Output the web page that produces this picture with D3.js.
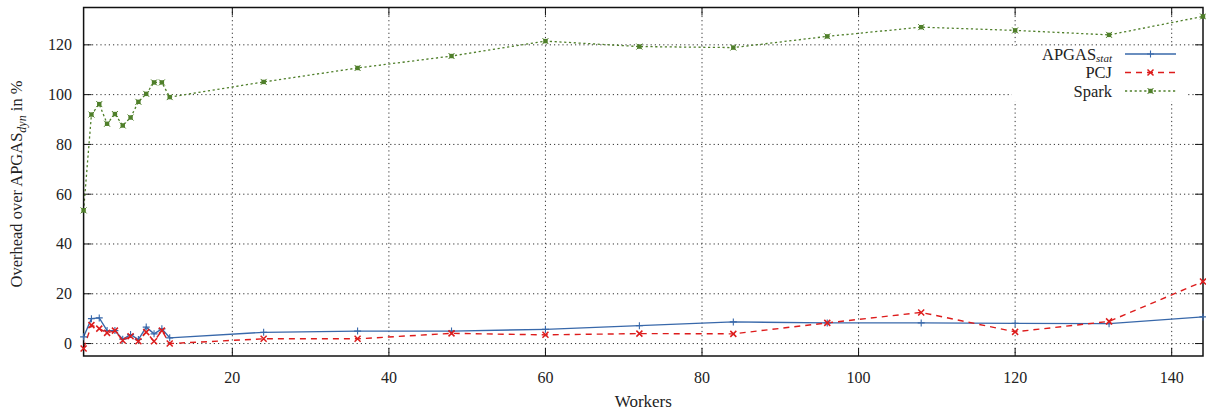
<!DOCTYPE html>
<html><head><meta charset="utf-8">
<script src="https://cdn.jsdelivr.net/npm/d3@7"></script>
<style>
html,body{margin:0;padding:0;background:#fff;}
</style></head>
<body>
<svg id="chart" width="1206" height="414"></svg>
<script>
const workers = [1,2,3,4,5,6,7,8,9,10,11,12,24,36,48,60,72,84,96,108,120,132,144];
const apgas = [2.7,10.0,10.3,5.2,5.2,1.7,3.6,1.6,6.6,3.9,5.9,2.3,4.5,5.0,5.0,5.7,7.2,8.7,8.3,8.3,8.1,8.0,10.7];
const pcj = [-2.0,7.4,6.0,4.3,5.2,1.2,2.9,0.9,4.6,0.9,5.2,0.0,1.9,1.9,4.1,3.5,4.0,3.9,8.3,12.5,4.7,8.9,24.9];
const spark = [53.5,92.0,96.2,88.3,92.2,87.6,90.8,97.1,100.3,104.9,104.9,99.0,105.1,110.7,115.5,121.5,119.3,118.9,123.4,127.1,125.8,124.0,131.4];
const xTicks = [20,40,60,80,100,120,140];
const yTicks = [0,20,40,60,80,100,120];

const FONT = "Liberation Serif";
const svg = d3.select("#chart");
const L = 83.6, R = 1203, T = 7.5, B = 356;
const x = d3.scaleLinear().domain([1,144]).range([L,R]);
const y = d3.scaleLinear().domain([-5,135]).range([B,T]);

const colors = {apgas:"#3868aa", pcj:"#dd1c1c", spark:"#4f7f2a"};

// grid
const grid = svg.append("g");
grid.selectAll("line.gx").data(xTicks).join("line")
  .attr("x1",d=>x(d)).attr("x2",d=>x(d)).attr("y1",T).attr("y2",B)
  .attr("stroke","#333").attr("stroke-width",1).attr("stroke-dasharray","1.2,3");
grid.selectAll("line.gy").data(yTicks).join("line")
  .attr("y1",d=>y(d)).attr("y2",d=>y(d)).attr("x1",L).attr("x2",R)
  .attr("stroke","#333").attr("stroke-width",1).attr("stroke-dasharray","1.2,3");

// ticks (inward, mirrored)
const tk = 8;
const ticks = svg.append("g").attr("stroke","#111").attr("stroke-width",1);
xTicks.forEach(d=>{
  ticks.append("line").attr("x1",x(d)).attr("x2",x(d)).attr("y1",B).attr("y2",B-tk);
  ticks.append("line").attr("x1",x(d)).attr("x2",x(d)).attr("y1",T).attr("y2",T+tk);
});
yTicks.forEach(d=>{
  ticks.append("line").attr("y1",y(d)).attr("y2",y(d)).attr("x1",L).attr("x2",L+tk);
  ticks.append("line").attr("y1",y(d)).attr("y2",y(d)).attr("x1",R).attr("x2",R-tk);
});

// tick labels
svg.append("g").selectAll("text").data(xTicks).join("text")
  .attr("x",d=>x(d)).attr("y",383).attr("text-anchor","middle").attr("font-family",FONT)
  .attr("font-size",16).attr("fill","#222").text(d=>d);
svg.append("g").selectAll("text").data(yTicks).join("text")
  .attr("x",72).attr("y",d=>y(d)+5.5).attr("text-anchor","end").attr("font-family",FONT)
  .attr("font-size",16).attr("fill","#222").text(d=>d);

// axis labels
svg.append("text").attr("x",(L+R)/2).attr("y",407).attr("text-anchor","middle").attr("font-family",FONT)
  .attr("font-size",17).attr("fill","#222").text("Workers");
const yl = svg.append("text").attr("transform","translate(22,184) rotate(-90)").attr("font-family",FONT)
  .attr("text-anchor","middle").attr("font-size",16.5).attr("fill","#222");
yl.append("tspan").text("Overhead over APGAS");
yl.append("tspan").attr("font-style","italic").attr("font-size",12).attr("dy",4).text("dyn");
yl.append("tspan").attr("dy",-4).text(" in %");

// clip
svg.append("clipPath").attr("id","clip").append("rect")
  .attr("x",L).attr("y",T).attr("width",R-L).attr("height",B-T);

const plot = svg.append("g").attr("clip-path","url(#clip)");
const markLayer = svg.append("g");
const line = d3.line().x(d=>x(d[0])).y(d=>y(d[1]));

function markerPlus(g,cx,cy,c){
  g.append("path").attr("d",`M${cx-3.5},${cy}H${cx+3.5}M${cx},${cy-3.5}V${cy+3.5}`)
   .attr("stroke",c).attr("stroke-width",1.1).attr("fill","none");
}
function markerX(g,cx,cy,c){
  g.append("path").attr("d",`M${cx-3},${cy-3}L${cx+3},${cy+3}M${cx-3},${cy+3}L${cx+3},${cy-3}`)
   .attr("stroke",c).attr("stroke-width",1.5).attr("fill","none");
}
function markerBox(g,cx,cy,c){
  g.append("rect").attr("x",cx-2.2).attr("y",cy-2.2).attr("width",4.4).attr("height",4.4)
   .attr("fill",c);
  g.append("path").attr("d",`M${cx-3},${cy-3}L${cx+3},${cy+3}M${cx-3},${cy+3}L${cx+3},${cy-3}`)
   .attr("stroke",c).attr("stroke-width",1).attr("fill","none");
}

const series = [
  {key:"apgas", vals:apgas, dash:null, w:1.4, marker:markerPlus},
  {key:"pcj", vals:pcj, dash:"6,5", w:1.4, marker:markerX},
  {key:"spark", vals:spark, dash:"2.2,2.6", w:1.3, marker:markerBox}
];

// border
svg.insert("rect", ":first-child").attr("x",0).attr("y",0).attr("width",1206).attr("height",414).attr("fill","#fff");

series.forEach(s=>{
  const pts = workers.map((w,i)=>[w,s.vals[i]]);
  plot.append("path").datum(pts).attr("d",line)
    .attr("fill","none").attr("stroke",colors[s.key]).attr("stroke-width",s.w)
    .attr("stroke-dasharray",s.dash);
});

svg.append("rect").attr("x",L).attr("y",T).attr("width",R-L).attr("height",B-T)
  .attr("fill","none").attr("stroke","#111").attr("stroke-width",1.5);

series.forEach(s=>{
  const mg = svg.append("g");
  workers.forEach((w,i)=>s.marker(mg,x(w),y(s.vals[i]),colors[s.key]));
});

// legend
const lg = svg.append("g");
lg.append("rect").attr("x",1012).attr("y",46).attr("width",175).attr("height",55).attr("fill","#fff");
const rows = [
  {key:"apgas", label:"APGAS", sub:"stat", y:54},
  {key:"pcj", label:"PCJ", sub:null, y:72.5},
  {key:"spark", label:"Spark", sub:null, y:91}
];
rows.forEach((r,i)=>{
  const s = series[i];
  const t = lg.append("text").attr("x",1112).attr("y",r.y+5.5).attr("text-anchor","end").attr("font-family",FONT)
    .attr("font-size",16.5).attr("fill","#222");
  t.append("tspan").text(r.label);
  if(r.sub){ t.append("tspan").attr("font-style","italic").attr("font-size",11).attr("dy",2.5).text(r.sub); }
  lg.append("line").attr("x1",1125).attr("x2",1176).attr("y1",r.y).attr("y2",r.y)
    .attr("stroke",colors[r.key]).attr("stroke-width",s.w).attr("stroke-dasharray",s.dash);
  s.marker(lg,1150.5,r.y,colors[r.key]);
});
</script>
</body></html>
